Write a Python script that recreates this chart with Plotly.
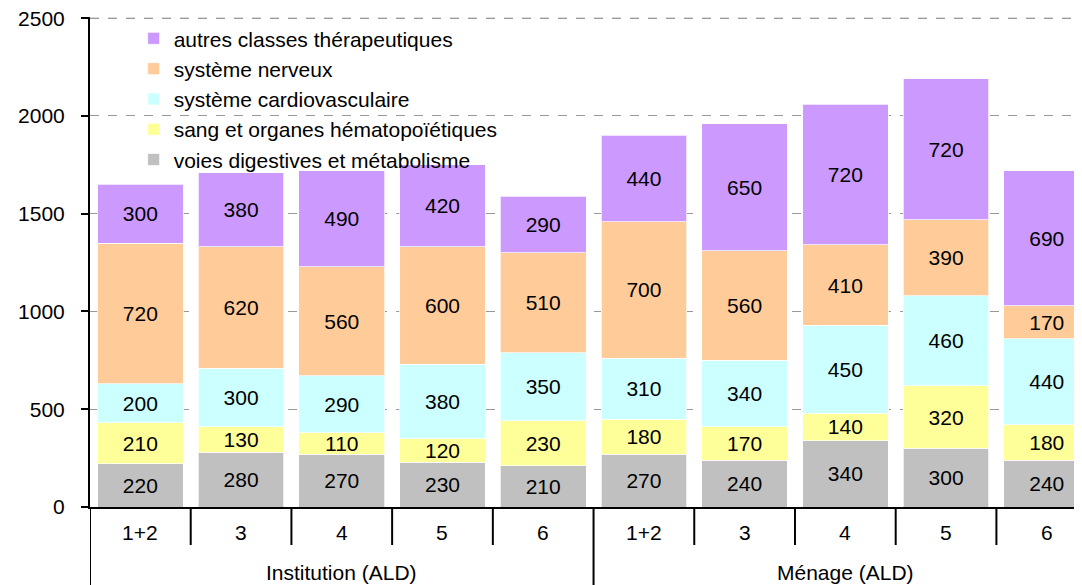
import plotly.graph_objects as go

categories = ["1+2", "3", "4", "5", "6", "1+2", "3", "4", "5", "6"]
groups = ["Institution (ALD)", "Ménage (ALD)"]
group_sizes = [5, 5]

series_names = [
    "voies digestives et métabolisme",
    "sang et organes hématopoïétiques",
    "système cardiovasculaire",
    "système nerveux",
    "autres classes thérapeutiques",
]
digestive = [220, 280, 270, 230, 210, 270, 240, 340, 300, 240]
sang = [210, 130, 110, 120, 230, 180, 170, 140, 320, 180]
cardio = [200, 300, 290, 380, 350, 310, 340, 450, 460, 440]
nerveux = [720, 620, 560, 600, 510, 700, 560, 410, 390, 170]
autres = [300, 380, 490, 420, 290, 440, 650, 720, 720, 690]
series_values = [digestive, sang, cardio, nerveux, autres]
colors = ["#C0C0C0", "#FFFF99", "#CCFFFF", "#FFCC99", "#CC99FF"]

y_ticks = [0, 500, 1000, 1500, 2000, 2500]

FONT = "Liberation Sans, Arial, sans-serif"
FS = 21
x = list(range(len(categories)))

fig = go.Figure()
nser = len(series_names)
for k, (name, vals, col) in enumerate(zip(series_names, series_values, colors)):
    fig.add_trace(go.Bar(
        x=x, y=vals, name=name, legendgroup=name, legendrank=nser - k,
        marker=dict(color=col, line=dict(color="rgba(255,255,255,0.7)", width=1)),
        text=[str(v) for v in vals],
        textposition="inside", insidetextanchor="middle", textangle=0,
        textfont=dict(family=FONT, size=FS, color="black"),
        width=0.85, hoverinfo="skip",
    ))

shapes = []
n = len(categories)
group_bounds = [0]
for s in group_sizes:
    group_bounds.append(group_bounds[-1] + s)
for b in range(n + 1):
    is_group = b in group_bounds
    shapes.append(dict(
        type="line", xref="x", yref="paper",
        x0=b - 0.5, x1=b - 0.5, y0=0, y1=-0.2 if is_group else -0.0776,
        line=dict(color="black", width=2),
    ))
# dashed gridline along the top of the value axis
shapes.append(dict(
    type="line", xref="paper", yref="y", x0=0, x1=1, y0=y_ticks[-1], y1=y_ticks[-1],
    line=dict(color="#999999", width=1, dash="dash"), layer="below",
))

annotations = []
for i, c in enumerate(categories):
    annotations.append(dict(
        x=i, y=-0.053, xref="x", yref="paper", text=c, showarrow=False,
        font=dict(family=FONT, size=FS, color="black"), yanchor="middle",
    ))
for gi, g in enumerate(groups):
    center = (group_bounds[gi] + group_bounds[gi + 1] - 1) / 2
    annotations.append(dict(
        x=center, y=-0.1327, xref="x", yref="paper", text=g, showarrow=False,
        font=dict(family=FONT, size=FS, color="black"), yanchor="middle",
    ))

fig.update_layout(
    width=1074, height=577,
    margin=dict(l=82, r=0, t=9, b=78),
    barmode="stack",
    plot_bgcolor="white", paper_bgcolor="white",
    font=dict(family=FONT, size=FS, color="black"),
    showlegend=True,
    legend=dict(
        x=0.044, y=0.9976, xanchor="left", yanchor="top",
        traceorder="grouped", tracegroupgap=0,
        bgcolor="rgba(0,0,0,0)",
        font=dict(family=FONT, size=FS, color="black"),
        itemwidth=30,
    ),
    uniformtext=dict(minsize=FS, mode="show"),
    shapes=shapes,
    annotations=annotations,
    xaxis=dict(
        range=[-0.5, 9.35], showticklabels=False, ticks="",
        showgrid=False, zeroline=False,
        showline=True, linecolor="black", linewidth=2,
    ),
    yaxis=dict(
        range=[0, 2506], tickvals=y_ticks, ticks="outside", ticklen=7,
        tickcolor="black", tickwidth=1.5,
        showline=True, linecolor="black", linewidth=2,
        showgrid=True, gridcolor="#999999", griddash="dash", gridwidth=1,
        zeroline=False, ticklabelstandoff=12, ticklabeloverflow="allow",
        tickfont=dict(family=FONT, size=FS, color="black"),
    ),
)

fig.write_html("out.html")
